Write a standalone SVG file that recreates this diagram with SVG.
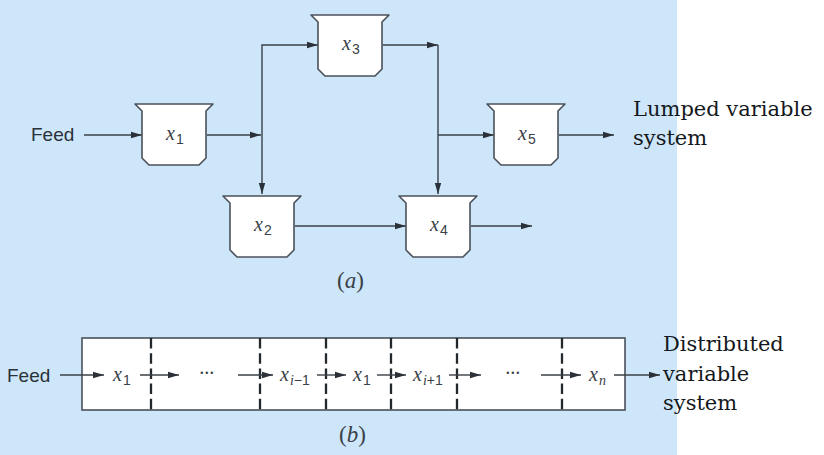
<svg xmlns="http://www.w3.org/2000/svg" width="824" height="455" viewBox="0 0 824 455">
<defs>
<marker id="ah" markerWidth="12" markerHeight="8" refX="11" refY="4" orient="auto" markerUnits="userSpaceOnUse"><path d="M0,0.8 L11,4 L0,7.2 Z" fill="#2b3138"/></marker>
<path id="tank" d="M0,0 H78 L71,7 V54 L64,61 H14 L7,54 V7 Z"/>
</defs>
<style>
.tank{fill:#fff;stroke:#4a5158;stroke-width:1.6;stroke-linejoin:round}
.line{fill:none;stroke:#3a4047;stroke-width:1.4}
.arr{marker-end:url(#ah)}
.dash{fill:none;stroke:#23282d;stroke-width:2.3;stroke-dasharray:10.5 4.7}
.sans{font-family:"Liberation Sans",Arial,sans-serif;font-size:19px;fill:#2b3138}
.var{font-family:"Liberation Serif","Times New Roman",serif;font-style:italic;font-size:20px;fill:#3a4047}
.var tspan.s{font-family:"Liberation Sans",Arial,sans-serif;font-style:normal;font-size:14px}
.var tspan.si{font-style:italic;font-size:14px}
.lab{font-family:"Liberation Serif","Times New Roman",serif;font-size:23px;fill:#3a4047}
.big{font-family:"DejaVu Serif",Georgia,serif;font-size:21px;fill:#14181c}
</style>
<rect x="0" y="0" width="824" height="455" fill="#fff"/>
<rect x="0" y="0" width="677" height="455" fill="#cde6fa"/>
<g id="pipe-body">
<rect x="82" y="338" width="543" height="72" fill="#fff" stroke="#4a5158" stroke-width="1.6"/>
<path class="dash" d="M151,338 V410 M260,338 V410 M326,338 V410 M391,338 V410 M457,338 V410 M562,338 V410"/>
</g>
<g id="connectors">
<path class="line arr" d="M84,135 H142"/>
<path class="line arr" d="M207,135 H261"/>
<path class="line arr" d="M262,135 V194"/>
<path class="line arr" d="M262,135 V45 H318"/>
<path class="line arr" d="M383,45 H438"/>
<path class="line arr" d="M438,45 V194"/>
<path class="line arr" d="M438,135 H494"/>
<path class="line arr" d="M559,135 H614"/>
<path class="line arr" d="M295,226 H406"/>
<path class="line arr" d="M471,226 H532"/>
<path class="line arr" d="M60,375 H104"/>
<path class="line arr" d="M140,375 H179"/>
<path class="line arr" d="M238,375 H273"/>
<path class="line arr" d="M317,375 H346"/>
<path class="line arr" d="M377,375 H406"/>
<path class="line arr" d="M449,375 H481"/>
<path class="line arr" d="M541,375 H581"/>
<path class="line arr" d="M614,375 H660"/>
</g>
<g id="feed-a"><text class="sans" x="31" y="141">Feed</text></g>
<g id="x1"><use href="#tank" class="tank" x="135" y="104"/><text class="var" x="166" y="140">x<tspan class="s" dx="1" dy="4">1</tspan></text></g>
<g id="x2"><use href="#tank" class="tank" x="223" y="196"/><text class="var" x="254" y="231">x<tspan class="s" dx="1" dy="4">2</tspan></text></g>
<g id="x3"><use href="#tank" class="tank" x="311" y="15"/><text class="var" x="342" y="50">x<tspan class="s" dx="1" dy="4">3</tspan></text></g>
<g id="x4"><use href="#tank" class="tank" x="399" y="196"/><text class="var" x="430" y="231">x<tspan class="s" dx="1" dy="4">4</tspan></text></g>
<g id="x5"><use href="#tank" class="tank" x="487" y="104"/><text class="var" x="518" y="140">x<tspan class="s" dx="1" dy="4">5</tspan></text></g>
<g id="label-a"><text class="lab" x="337" y="288"><tspan>(</tspan><tspan font-style="italic">a</tspan><tspan>)</tspan></text></g>
<g id="lumped"><text class="big" x="633" y="116">Lumped variable</text><text class="big" x="633" y="145">system</text></g>
<g id="feed-b"><text class="sans" x="7" y="382">Feed</text></g>
<g id="pipe-labels">
<text class="var" x="113" y="381">x<tspan class="s" dx="1" dy="4">1</tspan></text>
<text class="var" x="199" y="380">···</text>
<text class="var" x="280" y="381">x<tspan class="si" dx="1" dy="4">i</tspan><tspan class="s">−1</tspan></text>
<text class="var" x="353" y="381">x<tspan class="s" dx="1" dy="4">1</tspan></text>
<text class="var" x="413" y="381">x<tspan class="si" dx="1" dy="4">i</tspan><tspan class="s">+1</tspan></text>
<text class="var" x="505" y="380">···</text>
<text class="var" x="589" y="381">x<tspan class="si" dx="1" dy="4">n</tspan></text>
</g>
<g id="label-b"><text class="lab" x="339" y="442"><tspan>(</tspan><tspan font-style="italic">b</tspan><tspan>)</tspan></text></g>
<g id="distributed"><text class="big" x="663" y="351">Distributed</text><text class="big" x="663" y="381">variable</text><text class="big" x="663" y="410">system</text></g>
</svg>
